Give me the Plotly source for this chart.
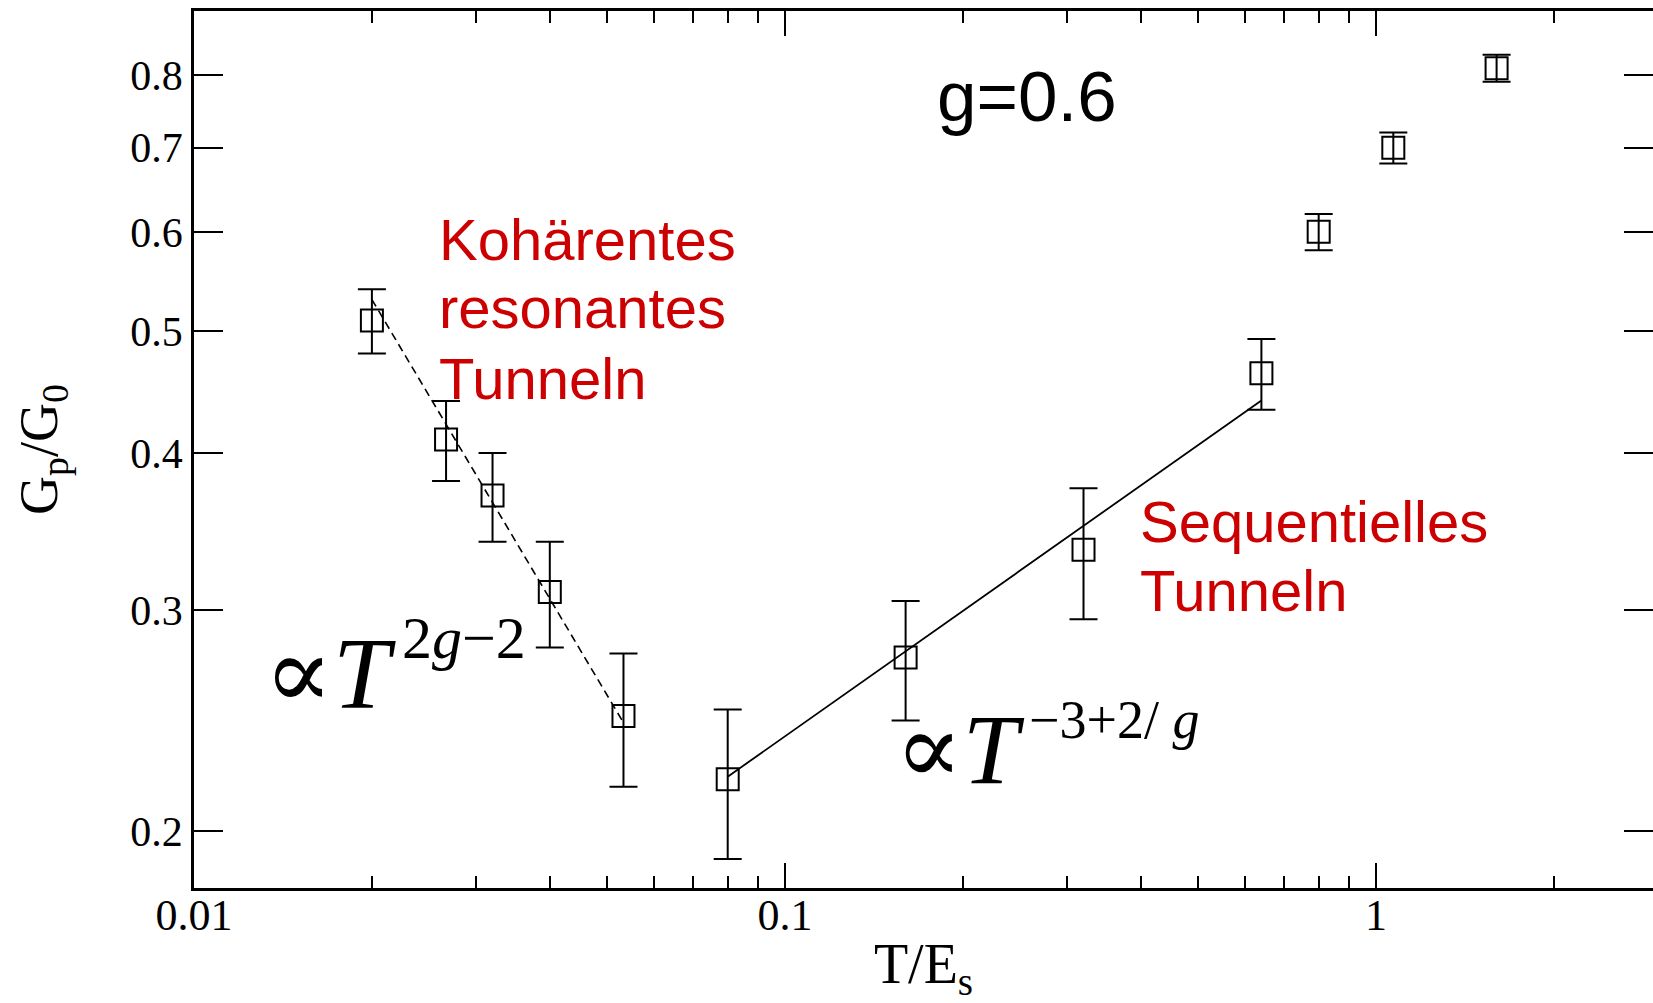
import math
import plotly.graph_objects as go

# Measured linear conductance vs temperature (g = 0.6)
t_vals = [0.02, 0.0267, 0.032, 0.04, 0.0533, 0.08, 0.16, 0.32, 0.64, 0.8, 1.07, 1.6]
g_vals = [0.51, 0.41, 0.37, 0.31, 0.247, 0.22, 0.275, 0.335, 0.463, 0.60, 0.70, 0.81]
g_errs = [0.03, 0.03, 0.03, 0.03, 0.03, 0.03, 0.03, 0.04, 0.03, 0.02, 0.02, 0.02]

# Power-law guides: coherent resonant (dashed) and sequential (solid) tunnelling
coh_t = [0.02, 0.0533]
coh_g = [0.53, 0.244]
seq_t = [0.08, 0.64]
seq_g = [0.221, 0.4405]

x_ticks = [0.01, 0.1, 1]
x_ticktext = ["0.01", "0.1", "1"]
x_minor = [0.02, 0.03, 0.04, 0.05, 0.06, 0.07, 0.08, 0.09,
           0.2, 0.3, 0.4, 0.5, 0.6, 0.7, 0.8, 0.9, 2]
y_ticks = [0.2, 0.3, 0.4, 0.5, 0.6, 0.7, 0.8]
y_ticktext = ["0.2", "0.3", "0.4", "0.5", "0.6", "0.7", "0.8"]

SERIF = "Liberation Serif, DejaVu Serif, Times New Roman, serif"
SANS = "Liberation Sans, Arial, sans-serif"
RED = "#cc0000"

x_range = [-2, math.log10(2.943)]
y_range = [math.log10(0.1802), math.log10(0.8995)]

fig = go.Figure()

# dashed guide lives on the right-hand twin axis (same range) so that axis gets drawn
fig.add_trace(go.Scatter(
    x=coh_t, y=coh_g, mode="lines", yaxis="y2",
    line=dict(color="black", width=1.6, dash="8px,5px"),
    showlegend=False, hoverinfo="skip",
))
fig.add_trace(go.Scatter(
    x=seq_t, y=seq_g, mode="lines",
    line=dict(color="black", width=1.8),
    showlegend=False, hoverinfo="skip",
))
fig.add_trace(go.Scatter(
    x=t_vals, y=g_vals, mode="markers",
    marker=dict(symbol="square-open", size=22, color="black",
                line=dict(color="black", width=2)),
    error_y=dict(type="data", array=g_errs, visible=True,
                 color="black", thickness=2, width=14),
    showlegend=False,
))

annotations = [
    dict(text="g=0.6", x=0.5706, y=0.9026, xanchor="center",
         font=dict(family=SANS, size=71, color="black")),
    dict(text="Kohärentes", x=0.1666, y=0.7390, xanchor="left",
         font=dict(family=SANS, size=58, color=RED)),
    dict(text="resonantes", x=0.1666, y=0.6615, xanchor="left",
         font=dict(family=SANS, size=58, color=RED)),
    dict(text="Tunneln", x=0.1666, y=0.5813, xanchor="left",
         font=dict(family=SANS, size=58, color=RED)),
    dict(text="Sequentielles", x=0.6470, y=0.4178, xanchor="left",
         font=dict(family=SANS, size=58, color=RED)),
    dict(text="Tunneln", x=0.6470, y=0.3391, xanchor="left",
         font=dict(family=SANS, size=58, color=RED)),
    dict(text="∝<i>T</i>", x=0.1398, y=0.2448, xanchor="right",
         font=dict(family=SERIF, size=102, color="black")),
    dict(text="2<i>g</i>−2", x=0.1412, y=0.2846, xanchor="left",
         font=dict(family=SERIF, size=60, color="black")),
    dict(text="∝<i>T</i>", x=0.5709, y=0.1582, xanchor="right",
         font=dict(family=SERIF, size=100, color="black")),
    dict(text="−3+2/ <i>g</i>", x=0.5709, y=0.1914, xanchor="left",
         font=dict(family=SERIF, size=54, color="black")),
]
for a in annotations:
    a.update(xref="paper", yref="paper", yanchor="middle", showarrow=False)

fig.update_layout(
    width=1653, height=1003, autosize=False,
    margin=dict(l=194, r=0, t=11, b=115),
    paper_bgcolor="white", plot_bgcolor="white",
    annotations=annotations,
    xaxis=dict(
        type="log", range=x_range,
        showline=True, linecolor="black", linewidth=2.5, mirror="ticks",
        ticks="inside", ticklen=25, tickwidth=2, tickcolor="black",
        tickvals=x_ticks, ticktext=x_ticktext,
        minor=dict(tickvals=x_minor, ticks="inside", ticklen=12,
                   tickwidth=2, tickcolor="black", showgrid=False),
        showgrid=False, zeroline=False,
        ticklabelstandoff=-14,
        tickfont=dict(family=SERIF, size=44, color="black"),
        title=dict(text="T/E<sub>s</sub>", standoff=10,
                   font=dict(family=SERIF, size=56, color="black")),
    ),
    yaxis=dict(
        type="log", range=y_range,
        showline=True, linecolor="black", linewidth=2.5, mirror=False,
        ticks="inside", ticklen=29, tickwidth=2, tickcolor="black",
        tickvals=y_ticks, ticktext=y_ticktext,
        showgrid=False, zeroline=False,
        tickfont=dict(family=SERIF, size=42, color="black"),
        title=dict(text="G<sub>p</sub>/G<sub>0</sub>", standoff=56,
                   font=dict(family=SERIF, size=54, color="black")),
    ),
    yaxis2=dict(
        type="log", range=y_range, overlaying="y", side="right",
        anchor="x", showline=False,
        ticks="inside", ticklen=29, tickwidth=2, tickcolor="black",
        tickvals=y_ticks, showticklabels=False,
        showgrid=False, zeroline=False,
    ),
)

fig.write_html("out.html")
